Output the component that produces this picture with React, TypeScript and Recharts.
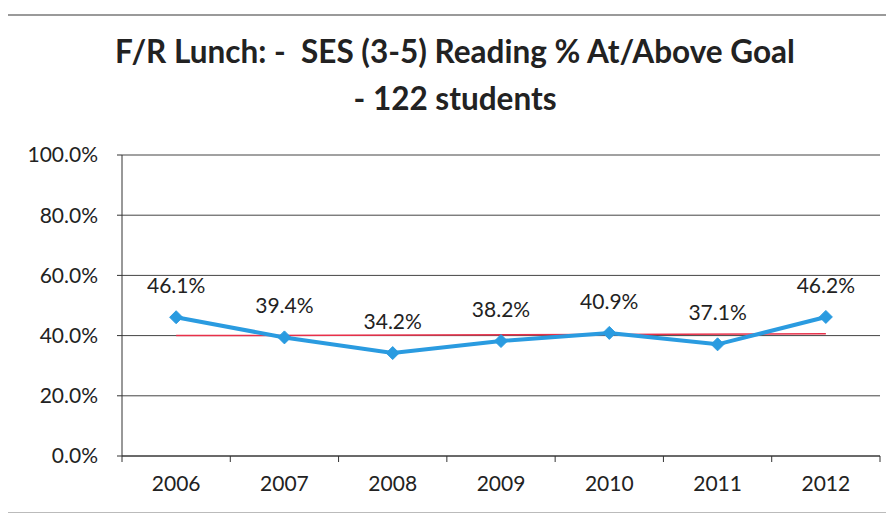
import React from 'react';
import { LineChart, Line, XAxis, YAxis, CartesianGrid, LabelList, ReferenceLine } from 'recharts';

const years = ['2006', '2007', '2008', '2009', '2010', '2011', '2012'];
const percentAtAboveGoal = [46.1, 39.4, 34.2, 38.2, 40.9, 37.1, 46.2];
const trendStart = 40.0;
const trendEnd = 40.6;
const yTicks = [0, 20, 40, 60, 80, 100];

const data = years.map((y, i) => ({ year: y, value: percentAtAboveGoal[i] }));

const FONT = 'Lato, "Open Sans", sans-serif';
const CHART_W = 894;
const MARGIN = { top: 155, right: 14, bottom: 32, left: 0 };
const Y_W = 122;
const X_TICK_MARGIN = 20;
const BAND = (CHART_W - MARGIN.left - MARGIN.right - Y_W) / years.length;

const Diamond = (props: any) => {
  const { cx, cy } = props;
  if (cx == null || cy == null) return null;
  const r = 6.5;
  return (
    <path
      d={`M${cx},${cy - r} L${cx + r},${cy} L${cx},${cy + r} L${cx - r},${cy} Z`}
      fill="#2a9be0"
      stroke="#2a9be0"
    />
  );
};

const XTick = (props: any) => {
  const { x, y, payload, index } = props;
  const axisY = y - X_TICK_MARGIN;
  return (
    <g>
      <line x1={x - BAND / 2} x2={x - BAND / 2} y1={axisY} y2={axisY + 6} stroke="#333" />
      {index === years.length - 1 && (
        <line x1={x + BAND / 2} x2={x + BAND / 2} y1={axisY} y2={axisY + 6} stroke="#333" />
      )}
      <text x={x} y={y} dy="0.71em" textAnchor="middle" fill="#222" fontSize={21} fontFamily={FONT}>
        {payload.value}
      </text>
    </g>
  );
};

export default function App() {
  return (
    <div style={{ position: 'relative', width: 894, height: 518, margin: '-8px 0 0 -8px', background: '#fff', fontFamily: FONT }}>
      <div style={{ position: 'absolute', left: 0, top: 14, width: 894, height: 2, background: '#9a9a9a' }} />
      <div style={{ position: 'absolute', left: 5, top: 15, width: 3, height: 503, background: '#555' }} />
      <div style={{ position: 'absolute', left: 8, top: 512, width: 886, height: 1, background: '#bbb' }} />
      <div
        style={{
          position: 'absolute',
          left: 0,
          top: 28,
          width: 910,
          textAlign: 'center',
          fontSize: 31.5,
          fontWeight: 700,
          lineHeight: '47px',
          color: '#222',
          whiteSpace: 'pre',
        }}
      >
        {'F/R Lunch: -  SES (3-5) Reading % At/Above Goal\n- 122 students'}
      </div>
      <div style={{ position: 'absolute', left: 0, top: 0 }}>
        <LineChart width={CHART_W} height={518} data={data} margin={MARGIN}>
          <CartesianGrid vertical={false} stroke="#444" strokeWidth={1} />
          <XAxis
            dataKey="year"
            scale="band"
            stroke="#333"
            tickLine={false}
            tick={<XTick />}
            tickMargin={X_TICK_MARGIN}
            tickSize={0}
            interval={0}
            height={30}
          />
          <YAxis
            domain={[0, 100]}
            ticks={yTicks}
            width={Y_W}
            stroke="#333"
            tickSize={5}
            tickMargin={19}
            tickFormatter={(v: number) => v.toFixed(1) + '%'}
            tick={{ fill: '#222', fontSize: 21, fontFamily: FONT }}
          />
          <ReferenceLine
            segment={[
              { x: '2006', y: trendStart },
              { x: '2012', y: trendEnd },
            ]}
            stroke="#e8304a"
            strokeWidth={1.5}
          />
          <Line
            type="linear"
            dataKey="value"
            stroke="#2a9be0"
            strokeWidth={4}
            dot={<Diamond />}
            activeDot={false}
            isAnimationActive={false}
          >
            <LabelList
              dataKey="value"
              position="top"
              offset={24}
              formatter={(v: any) => Number(v).toFixed(1) + '%'}
              style={{ fill: '#222', fontSize: 21, fontFamily: FONT }}
            />
          </Line>
        </LineChart>
      </div>
    </div>
  );
}
